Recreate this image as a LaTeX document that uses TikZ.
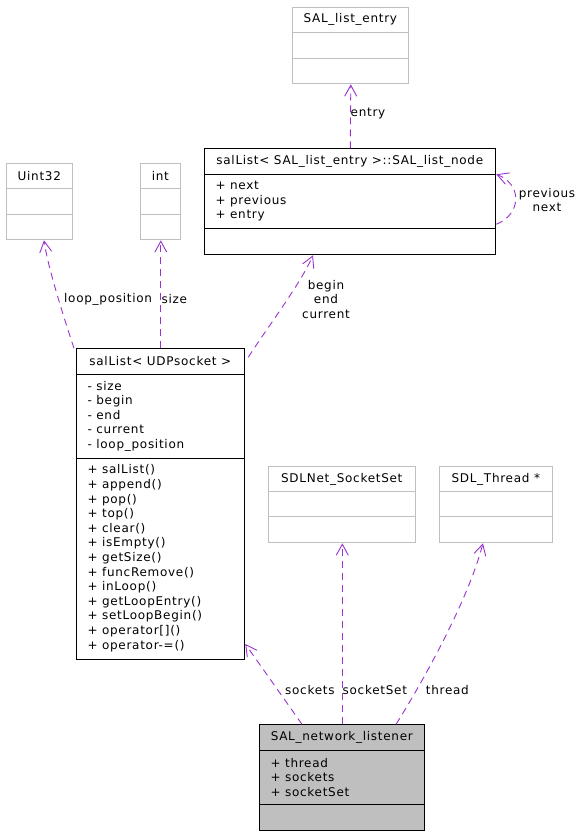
\documentclass[tikz,border=0pt]{standalone}
\usepackage{fontspec}
\setmainfont{DejaVu Sans}[LetterSpace=6]
\usetikzlibrary{arrows.meta}
\definecolor{edgecol}{HTML}{9A32CD}
\definecolor{graybox}{HTML}{BFBFBF}
\tikzset{
  every node/.style={font=\fontsize{12}{14.6}\selectfont, inner sep=0pt},
  clsbox/.style={draw=black, line width=1pt},
  extbox/.style={draw=graybox, line width=1pt},
  mainbox/.style={draw=black, fill=graybox, line width=1pt},
  edge/.style={draw=edgecol, line width=0.9pt, dash pattern=on 7pt off 5pt,
    -{Straight Barb[length=11pt,width=12pt]}},
  lbl/.style={anchor=west},
  members/.style={anchor=west, align=left},
}
% name, left, top, right, bottom, sep1, sep2, kind, title
\newcommand\umlbox[9]{%
  \node[#8, anchor=north west, minimum width={(#4-#2)*1pt}, minimum height={(#5-#3)*1pt}] (#1) at (#2,#3) {};
  \draw[#8] (#2,#6) -- (#4,#6);
  \draw[#8] (#2,#7) -- (#4,#7);
  \node (#1-title) at ({(#2+#4)/2},{(#3+#6)/2}) {#9};
}
\begin{document}
\begin{tikzpicture}[x=1pt,y=-1pt]
\useasboundingbox (0,0) rectangle (583,835);
\umlbox{entry}{292.3}{7.3}{408.3}{83.3}{32.3}{58.3}{extbox}{SAL\_list\_entry}
\umlbox{slnode}{204.3}{148.3}{495.3}{254.3}{174}{228.3}{clsbox}{salList< SAL\_list\_entry >::SAL\_list\_node}
\node[members] (slnode-attr) at (215.3,201.2) {+ next\\+ previous\\+ entry};
\umlbox{uint}{6.3}{163.3}{72.3}{239.3}{188.3}{214.3}{extbox}{Uint32}
\umlbox{int}{140.3}{163.3}{180.3}{239.3}{188.3}{214.3}{extbox}{int}
\umlbox{salUDP}{76.3}{348.3}{244.3}{659}{374}{458.3}{clsbox}{salList< UDPsocket >}
\node[members] (salUDP-attr) at (87.3,416.2) {- size\\- begin\\- end\\- current\\- loop\_position};
\node[members] (salUDP-ops) at (87.3,558.2) {+ salList()\\+ append()\\+ pop()\\+ top()\\+ clear()\\+ isEmpty()\\+ getSize()\\+ funcRemove()\\+ inLoop()\\+ getLoopEntry()\\+ setLoopBegin()\\+ operator[]()\\+ operator-=()};
\umlbox{sockset}{268.3}{466.3}{415.3}{542.3}{491.7}{516.7}{extbox}{SDLNet\_SocketSet}
\umlbox{thread}{439.3}{466.3}{552.3}{542.3}{491.7}{516.7}{extbox}{SDL\_Thread *}
\umlbox{listener}{259.3}{724.3}{424.3}{830}{750.3}{804}{mainbox}{SAL\_network\_listener}
\node[members] (listener-attr) at (270.3,777.2) {+ thread\\+ sockets\\+ socketSet};

% edges
\draw[edge] (slnode.north) -- (entry.south);
\node[lbl] (l-entry) at (350.5,114) {entry};
\draw[edge] ([yshift=-76pt]slnode.north east) .. controls (522,214) and (522,184) .. ([yshift=-26pt]slnode.north east);
\node[align=center] (l-prevnext) at (547,200) {previous\\next};
\draw[edge] ([xshift=3pt,yshift=-9pt]salUDP.north east) .. controls (262,335) and (300,285) .. ([xshift=108.7pt]slnode.south west);
\node[align=center] (l-bec) at (326,299.5) {begin\\end\\current};
\draw[edge] ([xshift=-2.3pt]salUDP.north west) .. controls (64,318) and (48,268) .. ([xshift=37.7pt]uint.south west);
\node[lbl] (l-loop) at (64,299) {loop\_position};
\draw[edge] (salUDP.north) -- (int.south);
\node[lbl] (l-size) at (161.5,299) {size};
\draw[edge] ([xshift=42.7pt]listener.north west) -- ([yshift=16pt]salUDP.south east);
\node[lbl] (l-sockets) at (285,690) {sockets};
\draw[edge] (listener.north) -- (sockset.south);
\node[lbl] (l-sockset) at (342.5,690) {socketSet};
\draw[edge] ([xshift=136.7pt]listener.north west) .. controls (425,678) and (468,600) .. ([xshift=43.7pt]thread.south west);
\node[lbl] (l-thread) at (425.7,690) {thread};
\end{tikzpicture}
\end{document}
